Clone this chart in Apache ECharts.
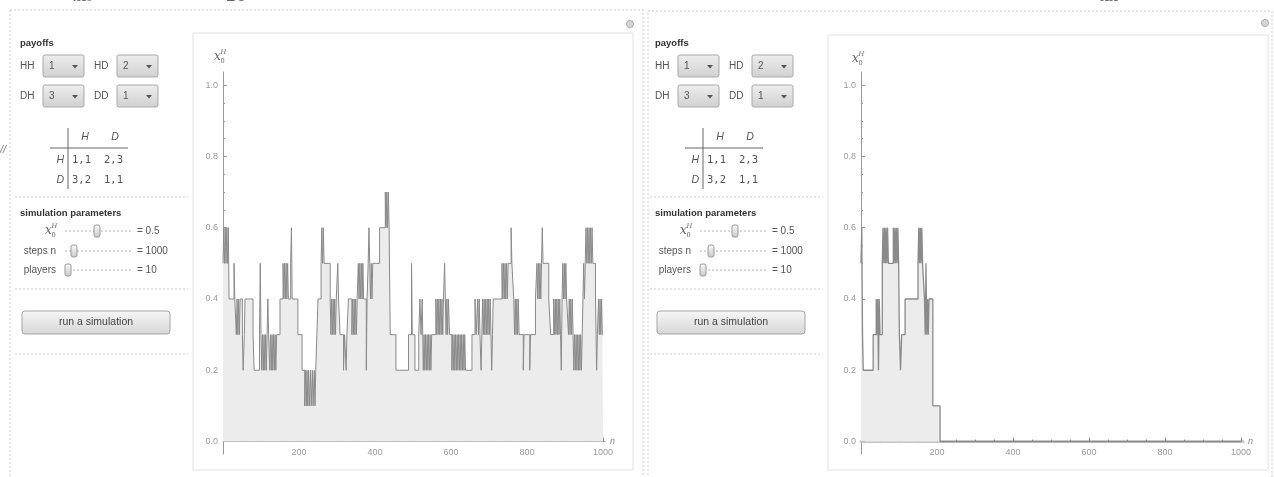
<!DOCTYPE html>
<html>
<head>
<meta charset="utf-8">
<script src="https://cdn.jsdelivr.net/npm/echarts@6/dist/echarts.min.js"></script>
<style>
html,body{margin:0;padding:0;background:#fff;}
#c{width:1274px;height:477px;}
</style>
</head>
<body>
<div id="c"></div>
<script>
// ---- data: [n, fraction of H players] (value holds until next n) ----
const leftSteps = [
[0,0.5],[2,0.6],[4,0.5],[6,0.6],[8,0.5],[10,0.6],[12,0.5],[14,0.6],
[16,0.4],[29,0.5],[31,0.4],
[35,0.3],[37,0.4],[39,0.3],[41,0.4],[43,0.3],[45,0.4],
[51,0.3],[53,0.2],[56,0.3],[58,0.4],
[79,0.3],[82,0.2],
[96,0.3],[98,0.5],[100,0.3],[102,0.2],[104,0.3],[106,0.2],[108,0.3],[110,0.2],[112,0.3],[114,0.2],
[116,0.3],[118,0.4],[120,0.3],[123,0.2],[125,0.3],[127,0.2],[129,0.3],[131,0.2],[133,0.3],[135,0.2],[137,0.3],[139,0.2],[141,0.3],
[150,0.4],[158,0.5],[160,0.4],[162,0.5],[164,0.4],[166,0.5],[168,0.4],[170,0.5],[172,0.4],
[178,0.5],[180,0.6],[182,0.4],
[197,0.3],[208,0.2],
[215,0.1],[217,0.2],[219,0.1],[221,0.2],[223,0.1],[225,0.2],[227,0.1],[230,0.2],[232,0.1],[235,0.2],[237,0.1],[240,0.2],[242,0.1],
[244,0.2],[247,0.3],[250,0.4],
[258,0.5],[260,0.6],[262,0.5],[264,0.6],[266,0.5],
[282,0.4],[284,0.3],[286,0.4],[288,0.3],[290,0.4],[292,0.3],[294,0.4],[296,0.3],[298,0.4],
[302,0.5],[304,0.4],
[308,0.3],[317,0.2],[320,0.3],[324,0.2],[326,0.3],
[330,0.4],[339,0.3],[341,0.4],[343,0.3],[345,0.4],[347,0.3],[349,0.4],[351,0.3],[353,0.4],
[356,0.5],[358,0.4],[360,0.5],[362,0.4],[364,0.5],[366,0.4],[368,0.5],[370,0.4],
[377,0.2],[379,0.4],
[382,0.5],[384,0.6],[386,0.5],[388,0.4],[390,0.5],[392,0.4],[394,0.5],
[412,0.6],[427,0.7],[429,0.6],[431,0.7],[433,0.6],[435,0.7],[437,0.6],
[440,0.3],[455,0.2],[488,0.3],[496,0.5],[498,0.3],[505,0.2],
[515,0.3],[518,0.4],[521,0.3],[524,0.4],[527,0.2],[529,0.3],[531,0.2],[533,0.3],[535,0.2],[537,0.3],[539,0.2],[541,0.3],[543,0.2],[545,0.3],[547,0.2],[549,0.3],
[560,0.4],[562,0.3],[564,0.4],[566,0.3],[568,0.4],[570,0.3],[572,0.4],[574,0.3],[576,0.4],[578,0.3],[580,0.4],[583,0.5],[585,0.4],[587,0.3],[589,0.4],[591,0.3],[593,0.4],
[596,0.3],[602,0.2],[604,0.3],[606,0.2],[608,0.3],[610,0.2],[612,0.3],[614,0.2],[616,0.3],[618,0.2],[620,0.3],[622,0.2],[624,0.3],[626,0.2],[628,0.3],[630,0.2],[632,0.3],[634,0.2],[636,0.3],[638,0.2],
[655,0.3],[663,0.4],[666,0.3],[670,0.4],[672,0.3],[674,0.4],[676,0.3],[679,0.2],[681,0.3],[683,0.4],[685,0.3],
[687,0.4],[689,0.3],[691,0.4],[693,0.3],[695,0.4],[697,0.3],[699,0.4],[701,0.3],[703,0.4],[705,0.3],[707,0.2],[709,0.3],[711,0.4],
[734,0.5],[736,0.4],[738,0.5],[740,0.4],[742,0.5],[744,0.4],[746,0.5],[748,0.4],[750,0.5],
[758,0.6],[760,0.5],
[765,0.4],[767,0.3],[769,0.4],[771,0.3],[773,0.4],[775,0.3],[777,0.4],[779,0.3],
[790,0.2],[792,0.3],[807,0.2],[809,0.3],
[822,0.4],[826,0.5],[828,0.4],[830,0.5],[832,0.4],[834,0.5],[836,0.4],[838,0.5],[840,0.6],[842,0.5],
[857,0.4],[862,0.3],[870,0.4],[872,0.3],[874,0.4],[876,0.3],[878,0.4],[880,0.3],[882,0.4],[884,0.3],[886,0.4],[888,0.3],[890,0.2],[892,0.4],[894,0.5],[896,0.4],[898,0.5],[900,0.4],[902,0.5],[904,0.4],
[909,0.3],[911,0.4],[913,0.3],[915,0.4],[917,0.3],[919,0.4],[921,0.3],[923,0.2],[925,0.3],[927,0.2],[929,0.3],[931,0.2],[933,0.3],[935,0.2],[937,0.3],[939,0.2],[941,0.3],[943,0.2],[945,0.3],
[947,0.4],[949,0.5],[951,0.4],[953,0.5],[955,0.6],[957,0.5],[959,0.6],[961,0.5],[963,0.6],[965,0.5],[967,0.6],[969,0.5],[971,0.6],[973,0.5],
[980,0.4],[983,0.2],[985,0.3],[988,0.4],[990,0.3],[992,0.4],[994,0.3],[996,0.4],[998,0.3],[1000,0.3]
];
const rightSteps = [
[0,0.5],[2,0.6],[4,0.3],[6,0.2],
[32,0.3],[40,0.4],[42,0.3],[44,0.4],[46,0.2],[48,0.4],[50,0.3],
[56,0.5],[58,0.6],[60,0.5],[62,0.6],[64,0.5],[66,0.6],[68,0.5],[70,0.6],[72,0.5],
[85,0.6],[87,0.5],[89,0.6],[91,0.5],[93,0.6],[95,0.5],[97,0.6],[99,0.5],
[101,0.3],[104,0.2],[107,0.3],[116,0.4],
[150,0.5],[152,0.6],[154,0.5],[156,0.6],[158,0.5],[160,0.6],[162,0.5],
[167,0.4],[169,0.3],[171,0.5],[173,0.3],[175,0.4],[177,0.3],[179,0.4],
[189,0.1],[208,0.0],[1000,0.0]
];
const xTicks = [0,200,400,600,800,1000];
const xTickLabels = [200,400,600,800,1000];
const xMinorTicks = [50,100,150,250,300,350,450,500,550,650,700,750,850,900,950];
const yTicks = [0,0.2,0.4,0.6,0.8,1.0];
const yMinorTicks = [0.05,0.1,0.15,0.25,0.3,0.35,0.45,0.5,0.55,0.65,0.7,0.75,0.85,0.9,0.95];
const payoffChoices = {HH:'1', HD:'2', DH:'3', DD:'1'};
const payoffTable = [['H','1,1','2,3'],['D','3,2','1,1']];
const sliders = [
  {label:'steps n', value:'= 1000'},
  {label:'players', value:'= 10'}
];
const x0Value = '= 0.5';

const FONT = '"Liberation Sans", "DejaVu Sans", sans-serif';
const LINE = '#8a8a8a';
const FILL = '#ececec';
const AX = '#999999';

function axesFor(g, band){
  return {
    xAxis: [
      {type:'value', gridIndex:g, min:0, max:1005, position:'bottom',
       axisLine:{onZero:true, lineStyle:{color: band ? '#c6c6c6' : AX, width: band ? 3 : 1}},
       axisTick:{inside:true, length:4, customValues:xTicks, lineStyle:{color:'#888'}},
       axisLabel:{customValues:xTickLabels, fontSize:9, color:'#9a9a9a', margin:-6, fontFamily:FONT,
                  formatter:v=>String(v)},
       splitLine:{show:false},
       name:'n', nameLocation:'end', nameGap:5,
       nameTextStyle:{fontSize:9, color:'#888', fontStyle:'italic', fontFamily:FONT, verticalAlign:'middle'}},
      {type:'value', gridIndex:g, min:0, max:1005, position:'bottom',
       axisLine:{show:false, onZero:true},
       axisTick:{inside:true, length:2, customValues:xMinorTicks, lineStyle:{color:'#888'}},
       axisLabel:{show:false}, splitLine:{show:false}}
    ],
    yAxis: [
      {type:'value', gridIndex:g, min:-0.035, max:1.037, position:'left',
       axisLine:{show:true, onZero:false, lineStyle:{color:AX,width:1}},
       axisTick:{show:true, inside:true, length:4, customValues:yTicks, lineStyle:{color:AX}},
       axisLabel:{customValues:yTicks, fontSize:9, color:'#9a9a9a', margin:5, fontFamily:FONT,
                  formatter:v=>Number(v).toFixed(1)},
       splitLine:{show:false}},
      {type:'value', gridIndex:g, min:-0.035, max:1.037, position:'left',
       axisLine:{show:false, onZero:false},
       axisTick:{show:true, inside:true, length:2, customValues:yMinorTicks, lineStyle:{color:AX}},
       axisLabel:{show:false}, splitLine:{show:false}}
    ]
  };
}

const a0 = axesFor(0,false), a1 = axesFor(1,true);

function grad(c1,c2){
  return new echarts.graphic.LinearGradient(0,0,0,1,[{offset:0,color:c1},{offset:1,color:c2}]);
}
function T(x,y,text,o){
  o=o||{};
  return {type:'text', x:x, y:y, silent:true, z:10, style:{text:text, fill:o.fill||'#555',
    font:(o.style||'')+' '+(o.weight||'normal')+' '+(o.size||10)+'px '+(o.family||FONT),
    align:o.align||'left', verticalAlign:'middle'}};
}
function L(x1,y1,x2,y2,o){
  o=o||{};
  return {type:'line', silent:true, z:5, shape:{x1:x1,y1:y1,x2:x2,y2:y2},
    style:{stroke:o.stroke||'#cfcfcf', lineWidth:o.w||1, lineDash:o.dash||null}};
}
function R(x,y,w,h,o){
  o=o||{};
  return {type:'rect', silent:true, z:o.z||4, shape:{x:x,y:y,width:w,height:h,r:o.r||0},
    style:{fill:o.fill||'none', stroke:o.stroke||'#cfcfcf', lineWidth:1, lineDash:o.dash||null}};
}
function dropdown(x,y,val){
  return [
    R(x,y,41,22,{r:2, fill:grad('#eeeeee','#d0d0d0'), stroke:'#a9a9a9', z:6}),
    T(x+6,y+11.5,val,{size:10, fill:'#555'}),
    {type:'polygon', silent:true, z:10, shape:{points:[[x+29,y+10],[x+35,y+10],[x+32,y+13.5]]}, style:{fill:'#555'}}
  ];
}
function slider(x1,x2,y,thumb){
  return [
    L(x1,y,x2,y,{stroke:'#b5b5b5', dash:[2,2]}),
    R(thumb-3,y-6,6,12,{r:2, fill:grad('#fafafa','#c9c9c9'), stroke:'#9a9a9a', z:7})
  ];
}
function xH(x,y,size){
  return [
    T(x,y,'x',{style:'italic', size:size, fill:'#666', family:'"DejaVu Serif", serif'}),
    T(x+size*0.55,y-size*0.4,'H',{style:'italic', size:size*0.55, fill:'#666', family:'"DejaVu Serif", serif'}),
    T(x+size*0.55,y+size*0.35,'0',{size:size*0.55, fill:'#666', family:'"DejaVu Serif", serif'})
  ];
}
function panelUI(dx, thumbs){
  let e = [];
  e.push(T(20+dx,43,'payoffs',{weight:'bold', size:9.5, fill:'#333'}));
  e.push(T(20+dx,66,'HH'),...dropdown(43+dx,55,payoffChoices.HH));
  e.push(T(94+dx,66,'HD'),...dropdown(117+dx,55,payoffChoices.HD));
  e.push(T(20+dx,96,'DH'),...dropdown(43+dx,85,payoffChoices.DH));
  e.push(T(94+dx,96,'DD'),...dropdown(117+dx,85,payoffChoices.DD));
  // payoff table
  e.push(L(68+dx,128,68+dx,189,{stroke:'#666'}));
  e.push(L(50+dx,148,128+dx,148,{stroke:'#666'}));
  e.push(T(85+dx,137,'H',{style:'italic', size:10.5, fill:'#555', align:'center'}));
  e.push(T(115+dx,137,'D',{style:'italic', size:10.5, fill:'#555', align:'center'}));
  payoffTable.forEach((row,i)=>{
    const y = 160 + i*20;
    e.push(T(64+dx,y,row[0],{style:'italic', size:10.5, fill:'#555', align:'right'}));
    e.push(T(72+dx,y,row[1],{size:10.5, fill:'#555', family:'"DejaVu Sans Mono", monospace'}));
    e.push(T(104+dx,y,row[2],{size:10.5, fill:'#555', family:'"DejaVu Sans Mono", monospace'}));
  });
  e.push(L(15+dx,197,188+dx,197,{dash:[2,2]}));
  e.push(T(20+dx,213,'simulation parameters',{weight:'bold', size:9.5, fill:'#333'}));
  // x0 slider
  e.push(...xH(45+dx,231,12));
  e.push(...slider(65+dx,132+dx,231,thumbs[0]+dx));
  e.push(T(137+dx,231,x0Value));
  sliders.forEach((s,i)=>{
    const y = 251 + i*19;
    e.push(T(56+dx,y,s.label,{align:'right'}));
    e.push(...slider(65+dx,132+dx,y,thumbs[i+1]+dx));
    e.push(T(137+dx,y,s.value));
  });
  e.push(L(15+dx,289,188+dx,289,{dash:[2,2]}));
  e.push(R(22+dx,311,148,23,{r:3, fill:grad('#f7f7f7','#d6d6d6'), stroke:'#a5a5a5', z:6}));
  e.push(T(96+dx,322.5,'run a simulation',{align:'center', size:10.5, fill:'#444'}));
  e.push(L(15+dx,354,188+dx,354,{dash:[2,2]}));
  return e;
}

const graphics = [
  // outer panels
  R(10,10,633,480,{dash:[2,2], stroke:'#cdcdcd', z:1}),
  R(648,11,624,480,{dash:[2,2], stroke:'#cdcdcd', z:1}),
  // plot frames
  R(193,33,440,437,{stroke:'#e2e2e2', z:1}),
  R(828,35,440,435,{stroke:'#e2e2e2', z:1}),
  // gear icons
  {type:'circle', silent:true, z:6, shape:{cx:630,cy:24,r:3.5}, style:{fill:'#d6d6d6', stroke:'#aaa'}},
  {type:'circle', silent:true, z:6, shape:{cx:1265,cy:23,r:3.5}, style:{fill:'#d6d6d6', stroke:'#aaa'}},
  // cut-off fragments at the edges of the screenshot
  T(72,-3,'.x\u2080',{size:16, fill:'#666', family:'"DejaVu Serif", serif'}),
  T(226,-3,'20',{size:16, fill:'#666', family:'"DejaVu Serif", serif'}),
  T(1100,-3,'\u1E8Bx',{size:16, fill:'#666', family:'"DejaVu Serif", serif'}),
  T(0,150,'//',{size:11, fill:'#777', style:'italic'}),
  // axis names (y)
  ...xH(214,57,12),
  ...xH(852,59,12),
  ...panelUI(0,[97,74,68]),
  ...panelUI(635,[100,76,68])
];

const chart = echarts.init(document.getElementById('c'), null, {renderer:'canvas'});
chart.setOption({
  animation:false,
  backgroundColor:'#ffffff',
  grid:[
    {left:223, top:72, width:382, height:382},
    {left:861, top:72, width:382, height:382}
  ],
  xAxis:[...a0.xAxis, ...a1.xAxis],
  yAxis:[...a0.yAxis, ...a1.yAxis],
  series:[
    {type:'line', xAxisIndex:0, yAxisIndex:0, step:'end', data:leftSteps, showSymbol:false,
     lineStyle:{color:LINE, width:1}, areaStyle:{color:FILL, opacity:1, origin:0}, z:2},
    {type:'line', xAxisIndex:2, yAxisIndex:2, step:'end', data:rightSteps, showSymbol:false,
     lineStyle:{color:LINE, width:1.3}, areaStyle:{color:FILL, opacity:1, origin:0}, z:2}
  ],
  graphic: graphics
});
</script>
</body>
</html>
